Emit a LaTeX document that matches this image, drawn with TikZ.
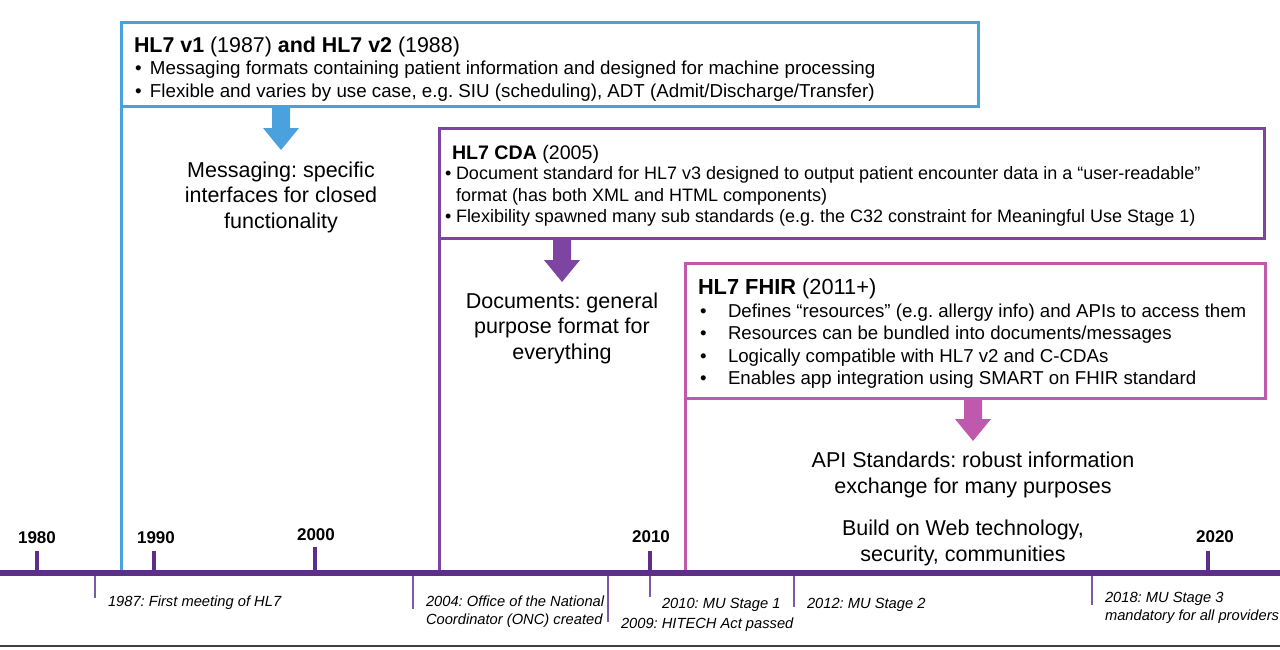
\documentclass[tikz,border=0pt]{standalone}
\usepackage{fontspec}
\setmainfont{Liberation Sans}
\definecolor{hlblue}{HTML}{4BA0DE}
\definecolor{hlpurple}{HTML}{7E44A2}
\definecolor{hlpink}{HTML}{C058AC}
\definecolor{tlpurple}{HTML}{5E2E8E}
\definecolor{evline}{HTML}{7D5AA6}
\frenchspacing
\begin{document}
\begin{tikzpicture}[x=1pt,y=-1pt,
  every node/.style={inner sep=0pt,outer sep=0pt},
  frame/.style={draw=#1,line width=3pt,fill=white},
  titleA/.style={anchor=base west,font=\fontsize{21.4}{24}\selectfont},
  titleB/.style={anchor=base west,font=\fontsize{19.6}{24}\selectfont},
  titleC/.style={anchor=base west,font=\fontsize{21.8}{24}\selectfont},
  bulA/.style={anchor=base west,font=\fontsize{18.75}{22}\selectfont},
  bulB/.style={anchor=base west,font=\fontsize{18}{22}\selectfont},
  bulC/.style={anchor=base west,font=\fontsize{18.65}{22}\selectfont},
  mid/.style={align=center,font=\fontsize{21.5}{25.5}\selectfont},
  year/.style={font=\bfseries\fontsize{17}{20}\selectfont},
  ev/.style={anchor=base west,align=left,font=\itshape\fontsize{14.7}{18}\selectfont},
  evl/.style={draw=evline,line width=1.3pt},
  tick/.style={draw=tlpurple,line width=4pt}
]
\useasboundingbox (0,0) rectangle (1280,649);
\fill[white] (0,0) rectangle (1280,649);

% timeline coordinates
\coordinate (tlL) at (0,573);
\coordinate (tlR) at (1280,573);

% ---- boxes ----
\node[frame=hlblue,anchor=north west,minimum width=857pt,minimum height=84pt] (b1) at (121,22) {};
\node[frame=hlpurple,anchor=north west,minimum width=825pt,minimum height=110pt] (b2) at (439,128) {};
\node[frame=hlpink,anchor=north west,minimum width=580pt,minimum height=135pt] (b3) at (685,263) {};

% vertical lines down to timeline
\coordinate (v1) at (121,573);
\coordinate (v2) at (439,573);
\coordinate (v3) at (685,573);
\draw[draw=hlblue,line width=3pt] (b1.south west) -- (v1);
\draw[draw=hlpurple,line width=3pt] (b2.south west) -- (v2);
\draw[draw=hlpink,line width=3pt] (b3.south west) -- (v3);

% redraw boxes on top of lines
\node[frame=hlblue,anchor=north west,minimum width=857pt,minimum height=84pt] (b1f) at (121,22) {};
\node[frame=hlpurple,anchor=north west,minimum width=825pt,minimum height=110pt] (b2f) at (439,128) {};

% ---- box 1 text ----
\node[titleA] (t1) at (134,52) {\textbf{HL7 v1} (1987) \textbf{and HL7 v2} (1988)};
\node[bulA] (t1a) at (135,74) {\makebox[15pt][l]{•}Messaging formats containing patient information and designed for machine processing};
\node[bulA] (t1b) at (135,97) {\makebox[15pt][l]{•}Flexible and varies by use case, e.g. SIU (scheduling), ADT (Admit/Discharge/Transfer)};

% ---- box 2 text ----
\node[titleB] (t2) at (452,159) {\textbf{HL7 CDA} (2005)};
\node[bulB] (t2a) at (445,179) {\makebox[11pt][l]{•}Document standard for HL7 v3 designed to output patient encounter data in a “user-readable”};
\node[bulB] (t2b) at (456,201) {format (has both XML and HTML components)};
\node[bulB] (t2c) at (445,222) {\makebox[11pt][l]{•}Flexibility spawned many sub standards (e.g. the C32 constraint for Meaningful Use Stage 1)};

% ---- box 3 text ----
\node[titleC] (t3) at (698,294) {\textbf{HL7 FHIR} (2011+)};
\node[bulC] (t3a) at (700,317) {\makebox[28pt][l]{•}Defines “resources” (e.g. allergy info) and APIs to access them};
\node[bulC] (t3b) at (700,339) {\makebox[28pt][l]{•}Resources can be bundled into documents/messages};
\node[bulC] (t3c) at (700,362) {\makebox[28pt][l]{•}Logically compatible with HL7 v2 and C-CDAs};
\node[bulC] (t3d) at (700,384) {\makebox[28pt][l]{•}Enables app integration using SMART on FHIR standard};

% ---- block arrows ----
\coordinate (a1) at (281,150);
\coordinate (a2) at (562,282);
\coordinate (a3) at (973,441);
\foreach \c/\col/\top in {a1/hlblue/106, a2/hlpurple/238, a3/hlpink/398}{
  \path (\c) coordinate (tip);
  \fill[\col] ([xshift=-9pt]tip |- 0,\top) -- ([xshift=9pt]tip |- 0,\top)
     -- ([xshift=9pt,yshift=22pt]tip) -- ([xshift=18pt,yshift=22pt]tip)
     -- (tip) -- ([xshift=-18pt,yshift=22pt]tip) -- ([xshift=-9pt,yshift=22pt]tip) -- cycle;
}

% ---- middle texts ----
\node[mid] (m1) at (281,197) {Messaging: specific\\interfaces for closed\\functionality};
\node[mid] (m2) at (562,328) {Documents: general\\purpose format for\\everything};
\node[mid] (m3) at (973,475) {API Standards: robust information\\exchange for many purposes};
\node[mid] (m4) at (963,543) {Build on Web technology,\\security, communities};

% ---- timeline ----
\draw[draw=tlpurple,line width=6pt] (tlL) -- (tlR);

% year ticks
\foreach \x/\t/\ty in {37/551/1980, 154/551/1990, 315/547/2000, 650/551/2010, 1208/551/2020}{
  \coordinate (yt\ty) at (\x,\t);
  \coordinate (yb\ty) at (\x,573);
  \draw[tick] (yb\ty) -- (yt\ty);
}
\node[year] (y1980) at (37,538) {1980};
\node[year] (y1990) at (156,538) {1990};
\node[year] (y2000) at (316,535) {2000};
\node[year] (y2010) at (651,537) {2010};
\node[year] (y2020) at (1215,537) {2020};

% event lines
\foreach \n/\x/\b in {e87/95/598, e04/413/609, e09/608/622, e10/650/597, e12/794/607, e18/1092/605}{
  \coordinate (\n t) at (\x,576);
  \coordinate (\n b) at (\x,\b);
  \draw[evl] (\n t) -- (\n b);
}
\node[ev] (l87) at (108,606) {1987: First meeting of HL7};
\node[ev] (l04) at (426,624) {2004: Office of the National\\Coordinator (ONC) created};
\node[ev] (l10) at (662,608) {2010: MU Stage 1};
\node[ev] (l09) at (621,628) {2009: HITECH Act passed};
\node[ev] (l12) at (807,608) {2012: MU Stage 2};
\node[ev] (l18) at (1105,620) {2018: MU Stage 3\\mandatory for all providers};

% bottom rule
\coordinate (bl) at (0,646);
\coordinate (br) at (1280,646);
\draw[draw=black!75,line width=1.2pt] (bl) -- (br);
\end{tikzpicture}
\end{document}
